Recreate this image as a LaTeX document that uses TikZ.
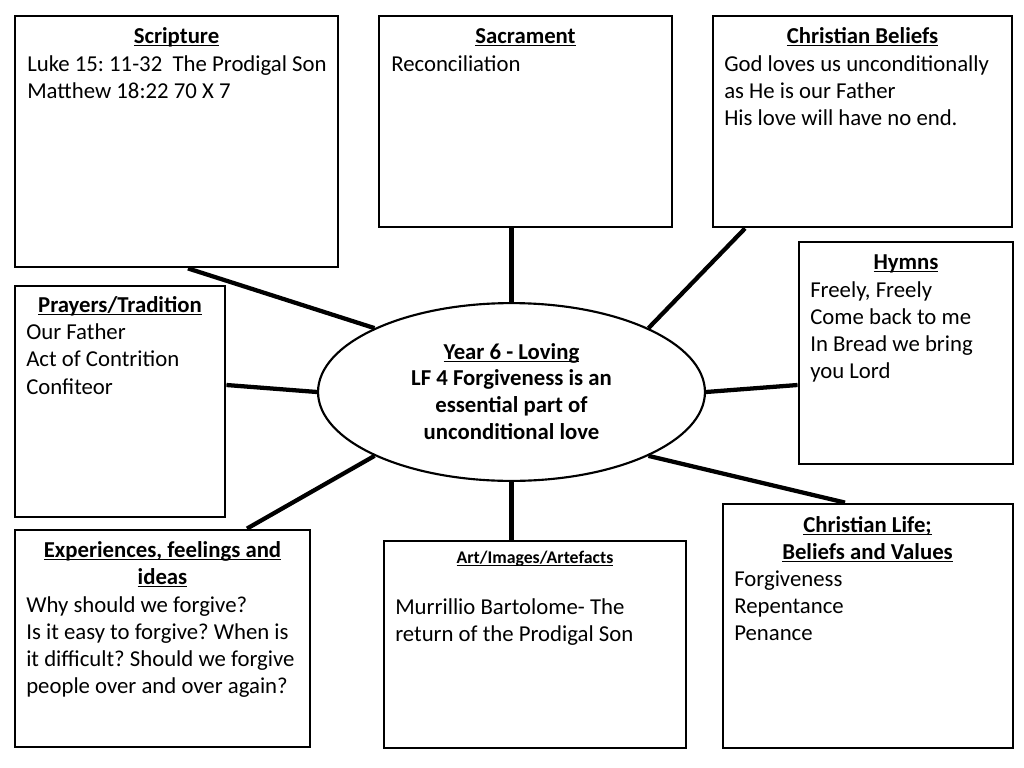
\documentclass[tikz,border=0pt]{standalone}
\usepackage{fontspec}
\setmainfont{Carlito}
\usetikzlibrary{shapes.geometric,fit}

\newcommand{\boxhead}[1]{\underline{\smash{#1}}}

\tikzset{
    infobox/.style={draw, line width=2pt, inner sep=0pt},
    ttl/.style={anchor=base, inner sep=0pt, text width=#1, align=flush center,
        font=\frenchspacing\bfseries\fontsize{16}{19.2}\selectfont},
    body/.style={anchor=base west, inner sep=0pt, text width=#1, align=flush left,
        font=\frenchspacing\fontsize{16}{19.2}\selectfont},
    link/.style={line width=3pt},
}

\begin{document}
\begin{tikzpicture}[x=0.703pt, y=-0.703pt]
    \useasboundingbox[fill=white] (0,0) rectangle (1024,768);

    % boxes
    \node[infobox, fit={(15,16) (338,267)}] (scripture) {};
    \node[infobox, fit={(379,16) (672,227)}] (sacrament) {};
    \node[infobox, fit={(713,16) (1012,227)}] (beliefs) {};
    \node[infobox, fit={(799,242) (1013,464)}] (hymns) {};
    \node[infobox, fit={(15,286) (225,517)}] (prayers) {};
    \node[infobox, fit={(15,530) (310,747)}] (experiences) {};
    \node[infobox, fit={(384,541) (686,748)}] (art) {};
    \node[infobox, fit={(723,504) (1013,748)}] (life) {};

    % centre
    \node[draw, ellipse, line width=1.5pt, minimum width=272pt, minimum height=125pt,
        align=flush center, font=\bfseries\fontsize{16}{18.8}\selectfont] (centre) at (511.5,392)
        {\vphantom{Y}\boxhead{Year 6 - Loving}\\LF 4 Forgiveness is an\\essential part of\\unconditional love};

    % links
    \draw[link] (centre.155) -- (scripture.south -| 188,0);
    \draw[link] (centre.north) -- (sacrament.south -| centre.north);
    \draw[link] (centre.25) -- (beliefs.south -| 745,0);
    \draw[link] (centre.east) -- (hymns.west |- 0,385);
    \draw[link] (centre.west) -- (prayers.east |- 0,385);
    \draw[link] (centre.205) -- (experiences.north -| 247,0);
    \draw[link] (centre.south) -- (art.north -| centre.south);
    \draw[link] (centre.335) -- (life.north -| 845,0);

    % texts
    \node[ttl=220pt] (scripturettl) at (176.5,43.5) {\boxhead{Scripture}};
    \node[body=222pt] (scripturetxt) at (27,71)
        {Luke 15: 11-32~~The Prodigal Son\\Matthew 18:22 70 X 7};

    \node[ttl=200pt] (sacramentttl) at (525.5,43.5) {\boxhead{Sacrament}};
    \node[body=200pt] (sacramenttxt) at (391,71) {Reconciliation};

    \node[ttl=205pt] (beliefsttl) at (862.5,43.5) {\boxhead{Christian Beliefs}};
    \node[body=205pt] (beliefstxt) at (724,71)
        {God loves us unconditionally\\as He is our Father\\His love will have no end.};

    \node[ttl=145pt] (hymnsttl) at (906,269.5) {\boxhead{Hymns}};
    \node[body=142pt] (hymnstxt) at (810,297)
        {Freely, Freely\\Come back to me\\In Bread we bring\\you Lord};

    \node[ttl=145pt] (prayersttl) at (120,312) {\boxhead{Prayers/Tradition}};
    \node[body=140pt] (prayerstxt) at (26,339.5)
        {Our Father\\Act of Contrition\\Confiteor};

    \node[ttl=200pt] (experiencesttl) at (162.5,557)
        {\boxhead{Experiences, feelings and}\\\boxhead{ideas}};
    \node[body=200pt] (experiencestxt) at (26,612)
        {Why should we forgive?\\Is it easy to forgive? When is\\it difficult? Should we forgive\\people over and over again?};

    \node[ttl=205pt, font=\bfseries\fontsize{12.5}{15}\selectfont] (artttl) at (535,563.5)
        {\boxhead{Art/Images/Artefacts}};
    \node[body=205pt] (arttxt) at (395,614.5)
        {Murrillio Bartolome- The\\return of the Prodigal Son};

    \node[ttl=200pt] (lifettl) at (867.5,532)
        {\boxhead{Christian Life;}\\\boxhead{Beliefs and Values}};
    \node[body=195pt] (lifetxt) at (734,586)
        {Forgiveness\\Repentance\\Penance};
\end{tikzpicture}
\end{document}
